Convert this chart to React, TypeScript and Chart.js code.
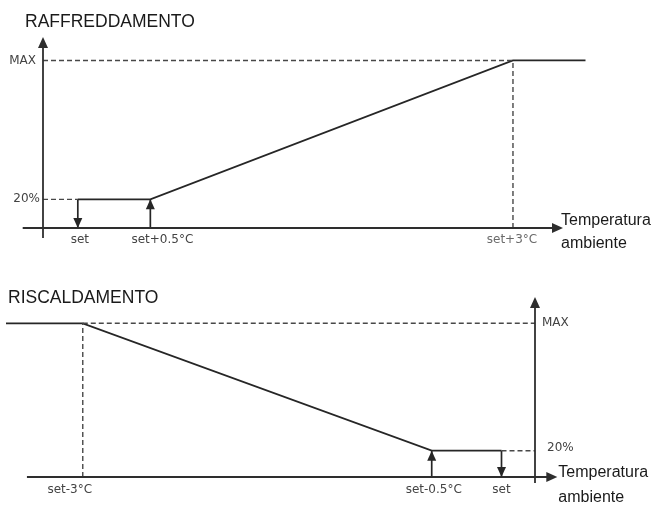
import React, { useEffect, useRef } from 'react';
import { Chart, registerables } from 'chart.js';

Chart.register(...registerables);

// ---------- data ----------
const coolTitle = 'RAFFREDDAMENTO';
const heatTitle = 'RISCALDAMENTO';
const axisName = ['Temperatura', 'ambiente'];
const levelLabels = ['20%', 'MAX'];
const levelValues = [20, 100];

const coolTickLabels = ['set', 'set+0.5°C', 'set+3°C'];
const coolTickValues = [0, 0.5, 3];
const coolLineX = [0, 0.5, 3, 3.5];
const coolLineY = [20, 20, 100, 100];
const coolArrowX = [0, 0.5];
const coolArrowDir = ['down', 'up'];

const heatTickLabels = ['set-3°C', 'set-0.5°C', 'set'];
const heatTickValues = [-3, -0.5, 0];
const heatLineX = [-3.55, -3, -0.5, 0];
const heatLineY = [100, 100, 20, 20];
const heatArrowX = [-0.5, 0];
const heatArrowDir = ['up', 'down'];

// ---------- styles ----------
const INK = '#262626';
const AXIS = '#2e2e2e';
const DASH = '#484848';
const LABEL = '#434343';
const TICK_FONT = '12px "DejaVu Sans", sans-serif';
const TITLE_FONT = '17.5px "Liberation Sans", Arial, sans-serif';
const NAME_FONT = '16px "Liberation Sans", Arial, sans-serif';

type Cfg = {
  title: string;
  titleX: number;
  titleY: number;
  xMin: number;
  xMax: number;
  yMin: number;
  yMax: number;
  padding: { left: number; right: number; top: number; bottom: number };
  yAxisSide: 'left' | 'right';
  xAxisFrom: number;
  xAxisTo: number;
  yAxisBelow: number;
  tickLabels: string[];
  tickValues: number[];
  tickDx: number[];
  tickDy: number;
  tickColors: string[];
  levelDx: number[];
  levelDy: number[];
  nameDx: number;
  nameDy: number[];
  lineX: number[];
  lineY: number[];
  arrowX: number[];
  arrowDir: string[];
  guides: { x: number; y: number }[][];
};

const coolCfg: Cfg = {
  title: coolTitle,
  titleX: 25,
  titleY: 27,
  xMin: -0.24,
  xMax: 3.5,
  yMin: 3.5,
  yMax: 113.5,
  padding: { left: 43, right: 70.5, top: 37, bottom: 26 },
  yAxisSide: 'left',
  xAxisFrom: -0.38,
  xAxisTo: 3.345,
  yAxisBelow: 10,
  tickLabels: coolTickLabels,
  tickValues: coolTickValues,
  tickDx: [2, 12, -1],
  tickDy: 12,
  tickColors: [LABEL, LABEL, '#6a6a6a'],
  levelDx: [-3, -7],
  levelDy: [0, 0],
  nameDx: -2,
  nameDy: [-3, 20],
  lineX: coolLineX,
  lineY: coolLineY,
  arrowX: coolArrowX,
  arrowDir: coolArrowDir,
  guides: [
    [{ x: -0.24, y: levelValues[1] }, { x: coolLineX[2], y: levelValues[1] }],
    [{ x: -0.24, y: levelValues[0] }, { x: coolLineX[0], y: levelValues[0] }],
    [{ x: coolLineX[2], y: 3.5 }, { x: coolLineX[2], y: levelValues[1] }],
  ],
};

const heatCfg: Cfg = {
  title: heatTitle,
  titleX: 8,
  titleY: 49,
  xMin: -3.55,
  xMax: 0.24,
  yMin: 3.5,
  yMax: 116.5,
  padding: { left: 6, right: 121, top: 43, bottom: 31 },
  yAxisSide: 'right',
  xAxisFrom: -3.4,
  xAxisTo: 0.4,
  yAxisBelow: 6,
  tickLabels: heatTickLabels,
  tickValues: heatTickValues,
  tickDx: [-13, 2, 0],
  tickDy: 13,
  tickColors: [LABEL, LABEL, LABEL],
  levelDx: [12, 7],
  levelDy: [-3, 0],
  nameDx: 1,
  nameDy: [0, 25],
  lineX: heatLineX,
  lineY: heatLineY,
  arrowX: heatArrowX,
  arrowDir: heatArrowDir,
  guides: [
    [{ x: heatLineX[1], y: levelValues[1] }, { x: 0.24, y: levelValues[1] }],
    [{ x: heatLineX[3], y: levelValues[0] }, { x: 0.24, y: levelValues[0] }],
    [{ x: heatLineX[1], y: 3.5 }, { x: heatLineX[1], y: levelValues[1] }],
  ],
};

function head(ctx: CanvasRenderingContext2D, x: number, y: number, dir: string, len: number, half: number) {
  ctx.beginPath();
  ctx.moveTo(x, y);
  if (dir === 'up') {
    ctx.lineTo(x - half, y + len);
    ctx.lineTo(x + half, y + len);
  } else if (dir === 'down') {
    ctx.lineTo(x - half, y - len);
    ctx.lineTo(x + half, y - len);
  } else {
    ctx.lineTo(x - len, y - half);
    ctx.lineTo(x - len, y + half);
  }
  ctx.closePath();
  ctx.fill();
}

function makePlugin(cfg: Cfg) {
  return {
    id: 'diagram',
    afterDatasetsDraw(chart: any) {
      const ctx: CanvasRenderingContext2D = chart.ctx;
      const xs = chart.scales.x;
      const ys = chart.scales.y;
      ctx.save();
      ctx.strokeStyle = AXIS;
      ctx.fillStyle = AXIS;
      ctx.lineWidth = 1.8;
      ctx.setLineDash([]);

      // y axis
      const ax = xs.getPixelForValue(cfg.yAxisSide === 'left' ? cfg.xMin : cfg.xMax);
      const topY = ys.getPixelForValue(cfg.yMax);
      const botY = ys.getPixelForValue(cfg.yMin);
      ctx.beginPath();
      ctx.moveTo(ax, botY + cfg.yAxisBelow);
      ctx.lineTo(ax, topY + 8);
      ctx.stroke();
      head(ctx, ax, topY, 'up', 11, 5);

      // x axis
      const x0 = xs.getPixelForValue(cfg.xAxisFrom);
      const x1 = xs.getPixelForValue(cfg.xAxisTo);
      ctx.beginPath();
      ctx.moveTo(x0, botY);
      ctx.lineTo(x1 - 8, botY);
      ctx.stroke();
      head(ctx, x1, botY, 'right', 11, 5);

      // marker arrows
      ctx.fillStyle = INK;
      const lvl = ys.getPixelForValue(levelValues[0]);
      cfg.arrowX.forEach((v, i) => {
        const px = xs.getPixelForValue(v);
        if (cfg.arrowDir[i] === 'up') head(ctx, px, lvl, 'up', 10, 4.5);
        else head(ctx, px, botY, 'down', 10, 4.5);
      });

      // tick labels
      ctx.font = TICK_FONT;
      ctx.textAlign = 'center';
      ctx.textBaseline = 'middle';
      cfg.tickLabels.forEach((t, i) => {
        ctx.fillStyle = cfg.tickColors[i];
        ctx.fillText(t, xs.getPixelForValue(cfg.tickValues[i]) + cfg.tickDx[i], botY + cfg.tickDy);
      });

      // level labels
      ctx.fillStyle = LABEL;
      ctx.textAlign = cfg.yAxisSide === 'left' ? 'right' : 'left';
      levelLabels.forEach((t, i) => {
        ctx.fillText(t, ax + cfg.levelDx[i], ys.getPixelForValue(levelValues[i]) + cfg.levelDy[i]);
      });

      // axis name
      ctx.fillStyle = '#1a1a1a';
      ctx.font = NAME_FONT;
      ctx.textAlign = 'left';
      ctx.textBaseline = 'alphabetic';
      axisName.forEach((t, i) => {
        ctx.fillText(t, x1 + cfg.nameDx, botY + cfg.nameDy[i]);
      });

      // title
      ctx.font = TITLE_FONT;
      ctx.fillStyle = '#1a1a1a';
      ctx.fillText(cfg.title, cfg.titleX, cfg.titleY);
      ctx.restore();
    },
  };
}

function Panel({ cfg }: { cfg: Cfg }) {
  const ref = useRef<HTMLCanvasElement>(null);
  useEffect(() => {
    const datasets: any[] = [];
    cfg.guides.forEach((g) => {
      datasets.push({
        data: g,
        showLine: true,
        borderColor: DASH,
        borderWidth: 1.4,
        borderDash: [5, 3],
        pointRadius: 0,
        clip: false,
      });
    });
    cfg.arrowX.forEach((v) => {
      datasets.push({
        data: [
          { x: v, y: cfg.yMin },
          { x: v, y: levelValues[0] },
        ],
        showLine: true,
        borderColor: INK,
        borderWidth: 1.7,
        pointRadius: 0,
        clip: false,
      });
    });
    datasets.push({
      data: cfg.lineX.map((x, i) => ({ x, y: cfg.lineY[i] })),
      showLine: true,
      borderColor: INK,
      borderWidth: 1.8,
      pointRadius: 0,
      tension: 0,
      clip: false,
    });
    const chart = new Chart(ref.current!, {
      type: 'scatter',
      data: { datasets },
      options: {
        responsive: false,
        animation: false,
        devicePixelRatio: 1,
        events: [],
        layout: { padding: cfg.padding },
        scales: {
          x: { type: 'linear', min: cfg.xMin, max: cfg.xMax, display: false },
          y: { type: 'linear', min: cfg.yMin, max: cfg.yMax, display: false },
        },
        plugins: { legend: { display: false }, tooltip: { enabled: false } },
      },
      plugins: [makePlugin(cfg)],
    } as any);
    return () => chart.destroy();
  }, [cfg]);
  return <canvas ref={ref} width={656} height={254} style={{ display: 'block', width: 656, height: 254 }} />;
}

export default function App() {
  return (
    <div style={{ position: 'absolute', left: 0, top: 0, width: 656, height: 508, background: '#fff' }}>
      <Panel cfg={coolCfg} />
      <Panel cfg={heatCfg} />
    </div>
  );
}
